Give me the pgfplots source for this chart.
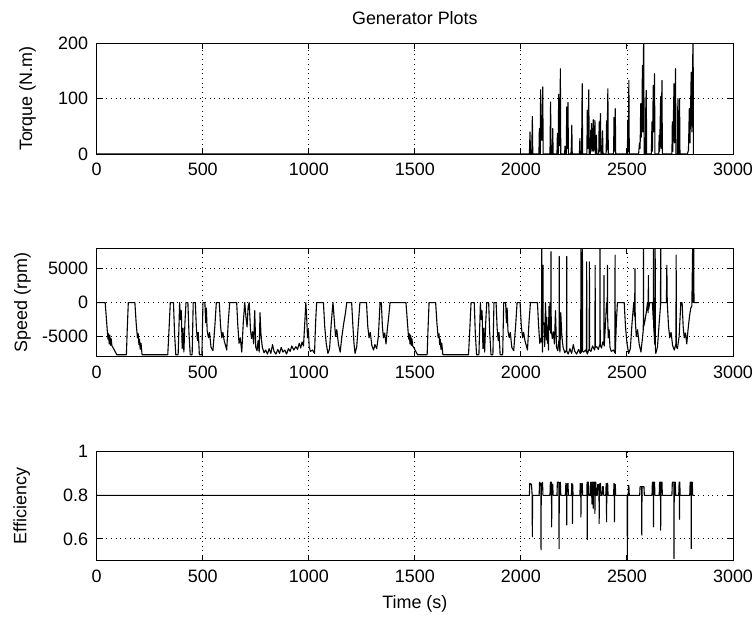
\documentclass[border=0pt]{standalone}
\usepackage{pgfplots}
\pgfplotsset{compat=1.18}
\usepackage{fontspec}
\setmainfont{Liberation Sans}
\newcommand{\ff}{\fontsize{18}{21}\selectfont}
\pgfplotsset{
  gen/.style={
    scale only axis, width=636.3bp,
    xmin=0, xmax=3000,
    xtick={0,500,1000,1500,2000,2500,3000},
    xticklabels={0,500,1000,1500,2000,2500,3000},
    scaled ticks=false,
    tick align=inside, tick pos=both, major tick length=6bp,
    grid=major,
    grid style={black, line width=0.9bp, dash pattern=on 0.9bp off 3.8bp},
    axis line style={black, line width=1bp},
    every tick/.style={black, line width=1bp},
    tick label style={font=\ff},
    xticklabel style={inner sep=0pt, anchor=north, yshift=-9bp},
    yticklabel style={inner sep=0pt, anchor=east, xshift=-8.5bp},
    every axis title/.style={at={(axis description cs:0.5,1)}, anchor=base, yshift=19bp, font=\ff},
    every axis x label/.style={at={(axis description cs:0.5,0)}, anchor=base, yshift=-48bp, font=\ff},
  },
  dat/.style={black, line width=1.1bp, mark=none, line join=round},
}
\begin{document}
\begin{tikzpicture}
\useasboundingbox (0,0) rectangle (755bp,-619bp);
% ---------------- Torque ----------------
\begin{axis}[gen, at={(96.7bp,-43.3bp)}, anchor=north west, height=110.7bp,
  ymin=0, ymax=200, ytick={0,100,200}, yticklabels={0,100,200},
  title={Generator Plots}, ylabel={Torque (N.m)},
  every axis y label/.style={at={(axis description cs:0,0.5)}, xshift=-69.2bp, rotate=90, anchor=center, font=\ff}]
\addplot[dat] coordinates {
(0,0) (2040,0) (2043,40) (2045,0) (2051,0) (2054,68) (2056,0) (2085,0) (2087,46) (2089,0) (2091,0) (2093,116) (2096,25) (2100,25) (2103,121) (2105,0)
(2137,0) (2140,94) (2142,0) (2148,0) (2150,46) (2152,0) (2170,0) (2172,37) (2174,0) (2176,0) (2178,108) (2181,15) (2184,15) (2186,154) (2188,0)
(2206,0) (2208,14) (2210,0) (2214,0) (2216,85) (2219,10) (2222,93) (2224,0) (2236,0) (2238,14) (2240,52) (2242,0) (2276,0) (2278,28) (2280,0)
(2286,0) (2289,127) (2291,0) (2311,0) (2313,79) (2316,10) (2320,116) (2322,0) (2327,0) (2329,43) (2331,10) (2333,55) (2335,5) (2338,8) (2341,62)
(2343,5) (2346,12) (2349,61) (2351,0) (2354,0) (2356,34) (2358,0) (2367,0) (2369,58) (2371,5) (2375,73) (2377,0) (2383,0) (2385,42) (2387,0)
(2402,0) (2404,60) (2406,8) (2410,118) (2412,0) (2437,0) (2439,66) (2441,5) (2445,82) (2447,0) (2502,0) (2504,61) (2506,5) (2509,133) (2511,0)
(2555,0) (2559,20) (2562,10) (2565,91) (2567,30) (2570,50) (2573,160) (2575,40) (2579,230) (2581,0) (2587,0) (2589,91) (2591,115) (2593,0)
(2615,0) (2618,58) (2620,5) (2624,124) (2626,40) (2630,145) (2632,0) (2650,0) (2652,34) (2654,5) (2659,104) (2661,10) (2665,133) (2667,0)
(2712,0) (2714,58) (2716,5) (2722,127) (2724,20) (2729,154) (2731,0) (2738,0) (2740,100) (2742,0) (2746,0) (2748,100) (2750,0)
(2785,0) (2790,7) (2794,82) (2797,20) (2803,148) (2806,40) (2812,230) (2813,0) (2815,0)
};
\end{axis}
% ---------------- Speed ----------------
\begin{axis}[gen, at={(96.7bp,-248.3bp)}, anchor=north west, height=108.5bp,
  ymin=-8000, ymax=8000, ytick={-5000,0,5000}, yticklabels={-5000,0,5000},
  ylabel={Speed (rpm)},
  every axis y label/.style={at={(axis description cs:0,0.5)}, xshift=-74.2bp, rotate=90, anchor=center, font=\ff}]
\addplot[dat] coordinates {
(0,0) (40,0) (46,-2500) (50,-4200) (53,-5400) (56,-4600) (59,-6100) (62,-4800) (65,-6300) (68,-5300) (72,-6400) (80,-6800) (88,-7300) (95,-7700)
(140,-7700) (144,-4000) (149,0) (180,0) (186,-3000) (192,-5200) (196,-4600) (199,-6200) (202,-5400) (205,-6900) (209,-6000) (214,-7700)
(335,-7700) (341,-4000) (347,0) (362,0) (367,-4500) (373,-7700) (384,-7700) (391,0) (395,-2500) (399,-1200) (403,-6800) (407,-3800) (411,-7300)
(416,-3000) (421,0) (430,0) (435,-4500) (441,-7700) (450,-7700) (455,0) (465,0) (470,-3800) (475,-5600) (479,-4400) (484,-7700) (496,-7700)
(501,0) (510,0) (514,-3000) (517,-800) (521,-4200) (527,-5200) (532,-4400) (539,-6600) (548,-7100) (557,-3500) (564,0) (578,0) (584,-3500)
(590,-5200) (595,-4400) (601,-5600) (607,-6300) (613,-7000) (620,-3000) (627,0) (660,0) (665,-3200) (671,-6000) (677,-5200) (684,-7300)
(691,-3000) (698,0) (704,-2200) (709,-3600) (714,-600) (719,0) (725,-4000) (730,-5300) (735,-4300) (740,-6100) (745,-1200) (750,-6600)
(756,-7100) (761,-5600) (766,-7300) (770,-1500) (775,-5000) (781,-6600) (789,-7400) (797,-7000) (805,-7600) (813,-6800) (821,-7500)
(829,-6200) (836,-7200) (845,-7600) (854,-6900) (862,-7500) (870,-6600) (878,-7300) (887,-7000) (895,-7600) (904,-6800) (912,-7200)
(920,-6400) (929,-7000) (939,-6500) (947,-6900) (955,-6000) (962,-6700) (968,-5800) (975,-6400) (981,-3000) (986,0) (990,-2200)
(994,-5200) (998,-4000) (1002,-6600) (1008,-7200) (1018,-7000) (1027,-7500) (1032,-3000) (1037,0) (1069,0) (1075,-3500) (1082,-6000)
(1090,-7500) (1098,-6800) (1106,-3000) (1114,0) (1120,-2500) (1126,-5000) (1132,-4000) (1140,-6200) (1148,-7300) (1156,-5000) (1165,-3000)
(1173,-1500) (1179,0) (1202,0) (1208,-3500) (1213,-6000) (1218,-7500) (1226,-6500) (1234,-3000) (1241,0) (1249,0) (1272,0) (1278,-3500)
(1284,-5200) (1290,-4400) (1297,-6300) (1305,-7000) (1312,-6200) (1320,-6800) (1328,-5000) (1336,0) (1342,0) (1347,-3500) (1352,-5200)
(1358,-4500) (1364,-6100) (1370,-4000) (1377,-2000) (1383,0)
(1418,0) (1458,0) (1464,-2500) (1468,-4200) (1471,-5400) (1474,-4600) (1477,-6100) (1480,-4800) (1483,-6300) (1486,-5300) (1490,-6400)
(1498,-6800) (1506,-7300) (1513,-7700) (1558,-7700) (1562,-4000) (1567,0) (1598,0) (1604,-3000) (1610,-5200) (1614,-4600) (1617,-6200)
(1620,-5400) (1623,-6900) (1627,-6000) (1632,-7700) (1753,-7700) (1759,-4000) (1765,0) (1780,0) (1785,-4500) (1791,-7700) (1802,-7700)
(1809,0) (1813,-2500) (1817,-1200) (1821,-6800) (1825,-3800) (1829,-7300) (1834,-3000) (1839,0) (1848,0) (1853,-4500) (1859,-7700)
(1868,-7700) (1873,0) (1883,0) (1888,-3800) (1893,-5600) (1897,-4400) (1902,-7700) (1914,-7700) (1919,0) (1928,0) (1932,-3000) (1935,-800)
(1939,-4200) (1945,-5200) (1950,-4400) (1957,-6600) (1966,-7100) (1975,-3500) (1982,0) (1996,0) (2002,-3500) (2008,-5200) (2013,-4400)
(2019,-5600) (2025,-6300) (2031,-7000) (2038,-3000) (2045,0) (2078,0) (2083,-3200) (2089,-6000) (2095,-5200) (2097,-5800) (2098,9000)
(2099,-4000) (2102,-7300) (2103,-2000) (2104,5500) (2105,-3000) (2109,-3000) (2112,-6500) (2116,0) (2120,-5500) (2122,-2200) (2125,-6000)
(2127,-3600) (2130,-7000) (2132,-600) (2135,-4000) (2137,0) (2140,-4500) (2141,-3000) (2142,7500) (2143,-4000) (2148,-5300) (2153,-4300)
(2158,-6100) (2163,-1200) (2168,-6600) (2174,-7100) (2179,-5600) (2180,-6000) (2181,6800) (2182,-6500) (2184,-7300) (2188,-1500)
(2193,-5000) (2199,-6600) (2207,-7400) (2215,-7000) (2216,6800) (2217,-7200) (2223,-7600) (2231,-6800) (2239,-7500) (2247,-6200)
(2254,-7200) (2263,-7600) (2272,-6900) (2280,-7500) (2282,-7300) (2283,9000) (2284,-7400) (2288,-6600) (2289,-7000) (2290,9000)
(2291,-7200) (2296,-7300) (2305,-7000) (2309,-7300) (2310,6000) (2311,-7400) (2313,-7600) (2322,-6800) (2323,6000) (2324,-7000)
(2330,-7200) (2338,-6400) (2347,-7000) (2349,-6800) (2350,5500) (2351,-6600) (2357,-6500) (2365,-6900) (2372,-6200) (2373,9000)
(2374,-6300) (2380,-6700) (2386,-5800) (2391,-6200) (2392,4000) (2393,-6400) (2399,-3000) (2404,0) (2407,-1500) (2408,5500) (2409,-2200)
(2412,-5200) (2416,-4000) (2420,-6600) (2426,-7200) (2436,-7000) (2443,-7400) (2444,7000) (2445,-7500) (2450,-3000) (2455,0) (2487,0)
(2493,-3500) (2500,-6000) (2508,-7500) (2516,-6800) (2524,-3000) (2532,0) (2536,-2000) (2538,5000) (2539,-2500) (2544,-5000) (2550,-4000)
(2558,-6200) (2566,-7300) (2574,-5000) (2577,-4000) (2578,9000) (2579,-3500) (2583,-3000) (2591,-1500) (2597,0) (2600,-1500) (2601,4000)
(2602,-1000) (2608,0) (2620,0) (2624,-2500) (2625,9000) (2626,-3500) (2631,-6000) (2632,-6200) (2633,9000) (2634,-6800) (2636,-7500)
(2644,-6500) (2652,-3000) (2658,-500) (2659,9000) (2660,0) (2667,0) (2686,0) (2688,5500) (2690,0) (2696,-3500) (2702,-5200) (2708,-4400)
(2715,-6300) (2723,-7000) (2730,-6200) (2731,-6300) (2732,7000) (2733,-6500) (2738,-6800) (2746,-5000) (2754,0) (2760,0) (2765,-3500)
(2770,-5200) (2776,-4500) (2782,-6100) (2788,-4000) (2795,-2000) (2801,-800) (2806,-500) (2810,9000) (2812,0) (2815,9000) (2816,0) (2835,0)
};
\end{axis}
% ---------------- Efficiency ----------------
\begin{axis}[gen, at={(96.7bp,-451.7bp)}, anchor=north west, height=109bp,
  ymin=0.5, ymax=1, ytick={0.6,0.8,1}, yticklabels={0.6,0.8,1},
  xlabel={Time (s)}, ylabel={Efficiency},
  every axis y label/.style={at={(axis description cs:0,0.5)}, xshift=-75bp, rotate=90, anchor=center, font=\ff}]
\addplot[dat] coordinates {
(0,0.8) (2040,0.8) (2042,0.855) (2050,0.85) (2053,0.8) (2054,0.61) (2055,0.8) (2086,0.8) (2088,0.86) (2094,0.85) (2095,0.55) (2096,0.85)
(2102,0.86) (2104,0.8) (2137,0.8) (2139,0.86) (2144,0.86) (2145,0.655) (2146,0.85) (2150,0.85) (2152,0.8) (2170,0.8) (2172,0.86) (2179,0.86)
(2180,0.555) (2181,0.85) (2186,0.86) (2188,0.8) (2210,0.8) (2212,0.855) (2215,0.85) (2216,0.664) (2217,0.85) (2222,0.855) (2224,0.8)
(2238,0.8) (2240,0.855) (2242,0.85) (2243,0.67) (2244,0.85) (2246,0.8) (2278,0.8) (2280,0.855) (2282,0.85) (2283,0.70) (2284,0.85)
(2289,0.855) (2291,0.8) (2311,0.8) (2312,0.86) (2313,0.597) (2314,0.86) (2318,0.86) (2320,0.8) (2327,0.8) (2329,0.86) (2332,0.86)
(2334,0.8) (2335,0.76) (2336,0.86) (2338,0.86) (2340,0.80) (2341,0.74) (2342,0.86) (2345,0.86) (2347,0.8) (2348,0.86) (2349,0.717)
(2350,0.86) (2353,0.86) (2355,0.8) (2360,0.8) (2362,0.85) (2368,0.85) (2369,0.67) (2370,0.85) (2375,0.855) (2377,0.8) (2383,0.8)
(2385,0.84) (2388,0.84) (2390,0.8) (2400,0.8) (2402,0.855) (2403,0.85) (2404,0.678) (2405,0.85) (2409,0.855) (2411,0.8) (2437,0.8)
(2439,0.855) (2440,0.85) (2441,0.678) (2442,0.85) (2445,0.85) (2447,0.8) (2501,0.8) (2502,0.5) (2503,0.8) (2506,0.8) (2507,0.845)
(2509,0.845) (2511,0.8) (2560,0.8) (2562,0.84) (2569,0.84) (2570,0.617) (2571,0.84) (2580,0.84) (2582,0.8) (2618,0.8) (2620,0.86)
(2624,0.86) (2625,0.655) (2626,0.86) (2630,0.86) (2632,0.8) (2652,0.8) (2654,0.86) (2658,0.86) (2659,0.64) (2660,0.86) (2665,0.86)
(2667,0.8) (2712,0.8) (2714,0.86) (2721,0.86) (2722,0.51) (2723,0.86) (2728,0.86) (2730,0.8) (2744,0.8) (2746,0.86) (2747,0.86)
(2748,0.69) (2749,0.86) (2751,0.8) (2796,0.8) (2798,0.86) (2802,0.86) (2803,0.555) (2804,0.86) (2808,0.86) (2810,0.8) (2815,0.8)
};
\end{axis}
\end{tikzpicture}
\end{document}
